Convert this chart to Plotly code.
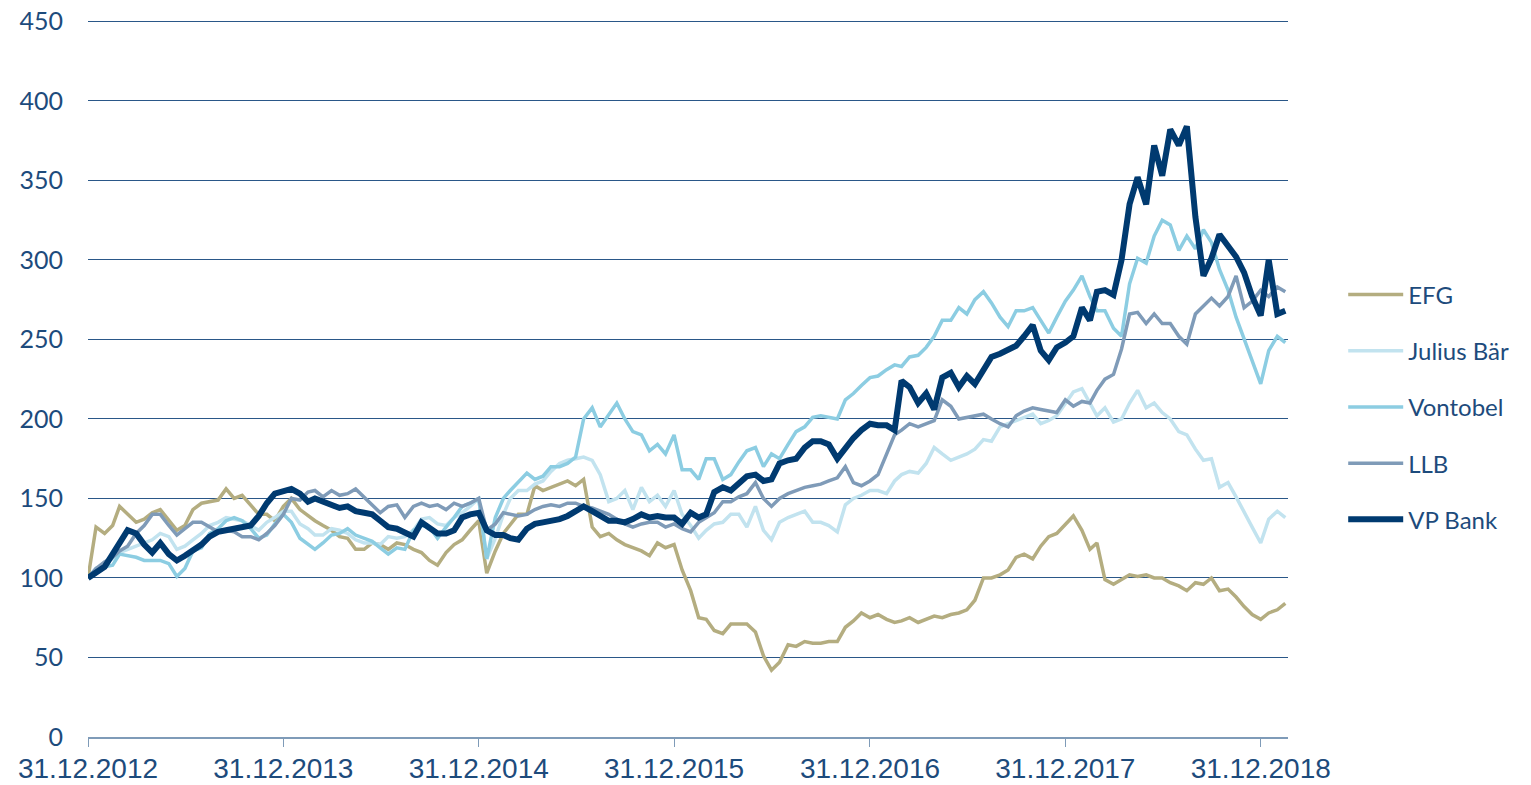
import calendar
import plotly.graph_objects as go

# index values, every half month (15th and month end)
efg = [100, 132, 128, 133, 145, 140, 135, 137, 141, 143, 136, 130, 133, 143, 147, 148, 149, 156, 150, 152, 146, 140, 140, 136, 145,
       150, 143, 139, 136, 133, 130, 126, 125, 118, 118, 122, 121, 118, 122, 121, 118, 116, 111, 108, 116, 121, 124, 130, 136,
       103, 117, 128, 134, 140, 140, 158, 155, 157, 159, 161, 158, 162, 132, 126, 128, 124, 121, 119, 117, 114, 122, 119, 121,
       105, 92, 75, 74, 67, 65, 71, 71, 71, 66, 51, 42, 47, 58, 57, 60, 59, 59, 60, 60, 69, 73, 78, 75,
       77, 74, 72, 73, 75, 72, 74, 76, 75, 77, 78, 80, 86, 100, 100, 102, 105, 113, 115, 112, 120, 126, 128, 134,
       139, 130, 118, 122, 99, 96, 99, 102, 101, 102, 100, 100, 97, 95, 92, 97, 96, 100, 92, 93, 88, 82, 77, 74, 78, 80, 84]

julius_baer = [100, 104, 110, 112, 116, 118, 120, 122, 124, 128, 126, 118, 120, 124, 128, 133, 135, 138, 137, 136, 133, 130, 135, 138, 142,
               142, 134, 131, 127, 127, 131, 130, 128, 124, 122, 122, 121, 126, 125, 126, 130, 137, 138, 134, 133, 138, 141, 145, 150,
               112, 125, 140, 150, 155, 155, 159, 161, 167, 172, 174, 175, 176, 174, 165, 148, 150, 155, 143, 157, 148, 152, 145, 155,
               140, 133, 125, 130, 134, 135, 140, 140, 132, 145, 130, 124, 135, 138, 140, 142, 135, 135, 133, 129, 146, 150, 152, 155,
               155, 153, 161, 165, 167, 166, 172, 182, 178, 174, 176, 178, 181, 187, 186, 195, 197, 199, 201, 203, 197, 199, 202, 210,
               217, 219, 210, 202, 207, 198, 200, 210, 218, 207, 210, 204, 200, 192, 190, 181, 174, 175, 157, 160, 151, 141, 132, 122, 137, 142, 138]

vontobel = [100, 106, 107, 108, 115, 114, 113, 111, 111, 111, 109, 101, 106, 117, 119, 128, 131, 136, 138, 136, 131, 125, 127, 134, 140,
            135, 125, 121, 118, 122, 127, 128, 131, 127, 125, 123, 119, 115, 119, 118, 130, 133, 132, 125, 132, 138, 145, 147, 150,
            112, 138, 150, 155, 160, 166, 162, 164, 170, 170, 172, 176, 200, 207, 195, 203, 210, 200, 192, 190, 180, 184, 178, 190,
            168, 168, 162, 175, 175, 162, 165, 173, 180, 182, 170, 178, 175, 184, 192, 195, 201, 202, 201, 200, 212, 216, 221, 226,
            227, 231, 234, 233, 239, 240, 245, 252, 262, 262, 270, 266, 275, 280, 273, 264, 258, 268, 268, 270, 262, 254, 264, 274,
            281, 290, 277, 268, 268, 257, 252, 285, 301, 298, 315, 325, 322, 306, 315, 307, 319, 311, 294, 281, 264, 250, 237, 222, 243, 252, 248]

llb = [100, 106, 110, 113, 117, 120, 128, 133, 140, 140, 133, 127, 131, 135, 135, 132, 129, 130, 129, 126, 126, 124, 128, 133, 140,
       150, 149, 154, 155, 151, 155, 152, 153, 156, 151, 146, 141, 145, 146, 138, 145, 147, 145, 146, 143, 147, 145, 147, 150,
       130, 134, 141, 140, 139, 140, 143, 145, 146, 145, 147, 147, 145, 144, 142, 140, 137, 134, 132, 134, 135, 135, 132, 134,
       131, 129, 135, 138, 141, 148, 148, 151, 153, 160, 150, 145, 150, 153, 155, 157, 158, 159, 161, 163, 170, 160, 158, 161,
       165, 178, 190, 193, 197, 195, 197, 199, 212, 208, 200, 201, 202, 203, 200, 197, 195, 202, 205, 207, 206, 205, 204, 212,
       208, 211, 210, 218, 225, 228, 244, 266, 267, 260, 266, 260, 260, 252, 247, 266, 271, 276, 271, 277, 290, 270, 274, 281, 277, 283, 280]

vp_bank = [100, 103, 107, 115, 122, 130, 128, 121, 116, 122, 115, 111, 114, 117, 121, 126, 129, 130, 131, 132, 133, 139, 147, 153, 155,
           156, 153, 148, 150, 148, 146, 144, 145, 142, 141, 140, 136, 132, 131, 129, 126, 135, 132, 128, 128, 130, 138, 140, 141,
           130, 127, 127, 125, 124, 131, 134, 135, 136, 137, 139, 142, 145, 142, 139, 136, 136, 135, 137, 140, 138, 139, 138, 138,
           134, 141, 138, 140, 154, 157, 155, 159, 164, 165, 161, 162, 172, 174, 175, 182, 186, 186, 184, 175, 182, 188, 193, 197,
           196, 196, 193, 224, 220, 210, 216, 206, 226, 229, 220, 227, 222, 230, 239, 241, 243, 246, 252, 259, 243, 237, 245, 248,
           252, 270, 262, 280, 281, 278, 300, 335, 352, 335, 372, 353, 382, 372, 384, 327, 290, 301, 316, 308, 302, 292, 277, 265, 300, 266, 268]

tick_dates = ["2012-12-31", "2013-12-31", "2014-12-31", "2015-12-31",
              "2016-12-31", "2017-12-31", "2018-12-31"]
tick_labels = ["31.12.2012", "31.12.2013", "31.12.2014", "31.12.2015",
               "31.12.2016", "31.12.2017", "31.12.2018"]

# half-month dates
dates = ["2012-12-31"]
for y in range(2013, 2020):
    for m in range(1, 13):
        dates.append(f"{y}-{m:02d}-15")
        dates.append(f"{y}-{m:02d}-{calendar.monthrange(y, m)[1]}")
dates = dates[:len(vp_bank)]

series = [
    ("EFG", efg, "#b4ad80", 3.5),
    ("Julius Bär", julius_baer, "#c2e3ef", 3.5),
    ("Vontobel", vontobel, "#8ccde2", 3.5),
    ("LLB", llb, "#7f9bb8", 3.5),
    ("VP Bank", vp_bank, "#003a70", 6),
]

fig = go.Figure()
for name, values, color, width in series:
    fig.add_trace(go.Scatter(
        x=dates, y=values, mode="lines", name=name,
        legendgroup=name,
        line=dict(color=color, width=width),
    ))

blue_text = "#1d4b7c"

# page body adds an 8px offset, so the figure is 8px smaller than the window
fig.update_layout(
    width=1523, height=777,
    margin=dict(l=80, r=243, t=11, b=48),
    plot_bgcolor="white", paper_bgcolor="white",
    showlegend=True,
    legend=dict(
        x=1.046, y=0.647, xanchor="left", yanchor="top",
        font=dict(family="Lato, Noto Sans, sans-serif", size=24, color=blue_text),
        tracegroupgap=22, itemwidth=55,
        bgcolor="rgba(0,0,0,0)",
    ),
    xaxis=dict(
        type="date", automargin=False,
        range=["2012-12-31", "2019-02-20"],
        tickvals=tick_dates, ticktext=tick_labels,
        ticks="outside", ticklen=8, tickcolor="#7f9bb8",
        showgrid=False, zeroline=False,
        showline=True, linecolor="#7f9bb8", linewidth=2,
        ticklabelstandoff=-3,
        tickfont=dict(family="Liberation Sans, Arial, sans-serif",
                      size=28, color=blue_text),
    ),
    yaxis=dict(
        range=[0, 451.5], dtick=50, automargin=False,
        showgrid=True, gridcolor="#2a5788", gridwidth=1,
        zeroline=False, showline=False, ticks="",
        ticklabelstandoff=24, ticklabeloverflow="allow",
        tickfont=dict(family="Lato, Noto Sans, sans-serif", size=25, color=blue_text),
    ),
)

fig.write_html("out.html")
